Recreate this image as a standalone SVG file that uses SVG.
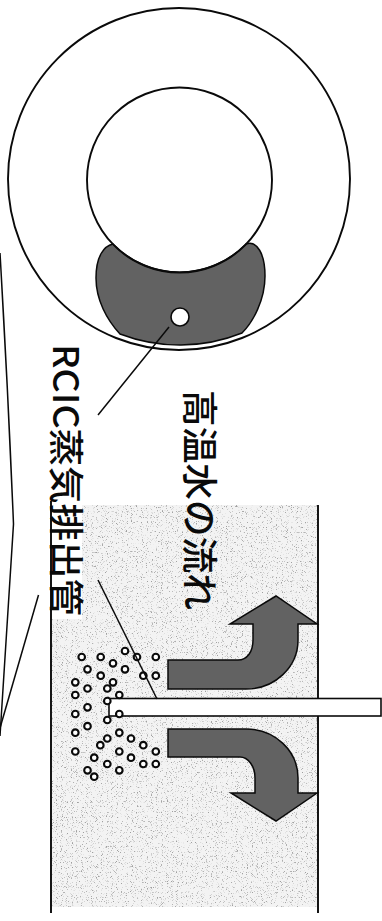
<svg xmlns="http://www.w3.org/2000/svg" width="382" height="921" viewBox="0 0 382 921">
  <style>
    .ln { fill: none; stroke: #0a0a0a; stroke-width: 1.9; }
    .thin { fill: none; stroke: #0a0a0a; stroke-width: 1.5; }
    .dark { fill: #626262; stroke: #0a0a0a; stroke-width: 1.5; }
    .bub { fill: #fff; stroke: #0a0a0a; stroke-width: 2.1; }
    .label { font-family: "Noto Sans CJK JP", "Noto Sans", sans-serif; font-weight: 500; fill: #0a0a0a; }
  </style>
  <defs>
    <circle id="b" r="3.3" class="bub"/>
    <!-- halftone grain used for the pool water -->
    <filter id="grain" x="0" y="0" width="1" height="1">
      <feTurbulence type="fractalNoise" baseFrequency="1.2" numOctaves="1" seed="4" result="n"/>
      <feColorMatrix in="n" type="matrix" values="0 0 0 0 0.35  0 0 0 0 0.35  0 0 0 0 0.35  6 0 0 0 -3.5" result="g"/>
      <feComposite in="g" in2="SourceGraphic" operator="in"/>
    </filter>
  </defs>

  <rect width="382" height="921" fill="#fff"/>

  <!-- reactor cross-section -->
  <g id="vessel-section">
    <circle cx="179" cy="179" r="171" class="ln"/>
    <path class="dark" d="M 113,244 A 92.5 92.5 0 0 0 246,244 C 257,240 265,254 265,276 C 265,300 253,322 242,333 A 167 167 0 0 1 120,334 C 107,320 96,300 96,278 C 96,256 104,246 113,244 Z"/>
    <circle cx="179.5" cy="180" r="92.5" class="ln" fill="#fff"/>
    <circle id="pipe-section" cx="180" cy="317" r="9" fill="#fff" stroke="#0a0a0a" stroke-width="1.6"/>
  </g>

  <!-- suppression pool water -->
  <g id="pool">
    <rect x="51" y="505" width="267" height="402" fill="#f3f3f3"/>
    <rect x="51" y="505" width="267" height="402" fill="#000" filter="url(#grain)"/>
    <rect x="51" y="500" width="31" height="119" fill="#fff"/>
    <line class="ln" x1="51" y1="501" x2="51" y2="913"/>
    <line class="ln" x1="318" y1="505" x2="318" y2="913"/>
  </g>

  <!-- hot water flow arrows -->
  <g id="flow-up">
    <path class="dark" d="M 168,660 L 238,660 C 247,660 253,652 253,640 L 253,624 L 230,624 L 276,596 L 317,624 L 298,624 L 298,640 C 298,667 275,689 246,689 L 168,689 Z"/>
  </g>
  <g id="flow-down">
    <path class="dark" d="M 168,729 L 246,729 C 275,729 298,751 298,778 L 298,793 L 317,793 L 276,821 L 231,793 L 255,793 L 255,778 C 255,766 248,757 240,757 L 168,757 Z"/>
  </g>

  <!-- RCIC exhaust pipe -->
  <g id="exhaust-pipe">
    <rect x="109" y="698.5" width="272" height="17.5" fill="#fff" stroke="#0a0a0a" stroke-width="1.6"/>
  </g>

  <!-- steam bubbles -->
  <g id="bubbles">
    <use href="#b" x="81.7" y="657"/><use href="#b" x="100.7" y="657"/><use href="#b" x="125" y="651"/>
    <use href="#b" x="137" y="657"/><use href="#b" x="155.8" y="657"/>
    <use href="#b" x="87.5" y="669.3"/><use href="#b" x="113" y="663.3"/><use href="#b" x="125" y="669.3"/>
    <use href="#b" x="100.7" y="675.7"/><use href="#b" x="143.3" y="675.7"/><use href="#b" x="155.8" y="675.7"/>
    <use href="#b" x="75.3" y="682.3"/><use href="#b" x="113" y="682.3"/>
    <use href="#b" x="87.5" y="688.5"/><use href="#b" x="107.3" y="688.5"/>
    <use href="#b" x="75.3" y="695"/><use href="#b" x="119.3" y="695"/>
    <use href="#b" x="107.3" y="701"/>
    <use href="#b" x="87.5" y="707.3"/>
    <use href="#b" x="75.3" y="714"/><use href="#b" x="119.3" y="714"/>
    <use href="#b" x="107.3" y="720"/>
    <use href="#b" x="87.5" y="726.2"/>
    <use href="#b" x="75.3" y="732.7"/><use href="#b" x="119.3" y="732.7"/>
    <use href="#b" x="107.3" y="738.5"/><use href="#b" x="131" y="738.5"/>
    <use href="#b" x="100.3" y="745.2"/><use href="#b" x="143.3" y="745.2"/>
    <use href="#b" x="75.3" y="751.5"/><use href="#b" x="119.3" y="751.5"/><use href="#b" x="155.8" y="751.5"/>
    <use href="#b" x="94.2" y="757.7"/><use href="#b" x="131" y="757.7"/>
    <use href="#b" x="107.3" y="764"/><use href="#b" x="143.3" y="764"/><use href="#b" x="155.8" y="764"/>
    <use href="#b" x="87.5" y="770.3"/><use href="#b" x="119.3" y="770.3"/>
    <use href="#b" x="94.2" y="776.7"/>
  </g>

  <!-- leader and callout lines -->
  <g id="connectors">
    <line class="thin" x1="169" y1="327" x2="98" y2="415"/>
    <line class="thin" x1="98" y1="580" x2="157" y2="699"/>
    <path class="thin" d="M 0,253 Q 8,390 13.5,524 L 0,736"/>
    <line class="thin" x1="38.5" y1="595" x2="0" y2="728"/>
  </g>

  <!-- labels -->
  <g id="label-flow">
    <text class="label" transform="translate(185.5,390) rotate(90)" font-size="36" textLength="220" lengthAdjust="spacingAndGlyphs">高温水の流れ</text>
  </g>
  <g id="label-pipe">
    <text class="label" transform="translate(53,344) rotate(90)" font-size="35" textLength="272" lengthAdjust="spacingAndGlyphs">RCIC蒸気排出管</text>
  </g>
</svg>
